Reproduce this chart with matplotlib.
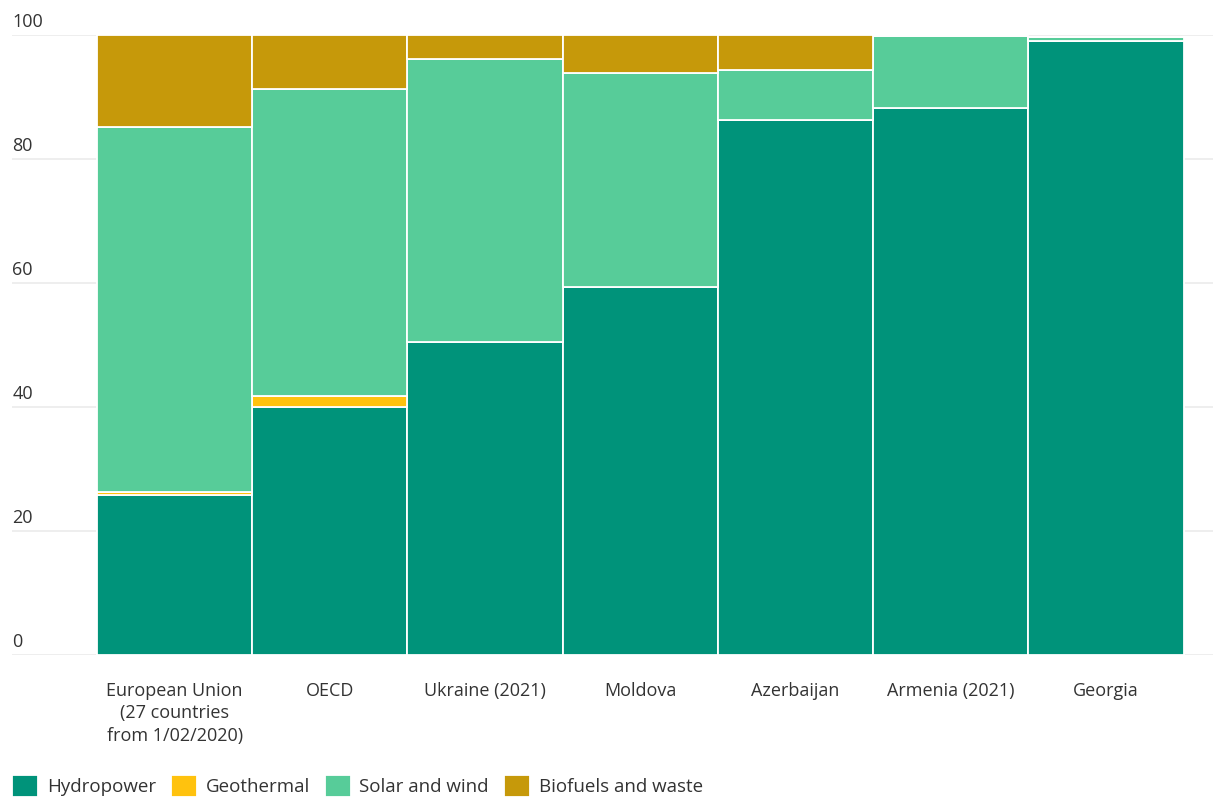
import numpy as np
import matplotlib.pyplot as plt

plt.rcParams['font.family'] = ['Open Sans', 'DejaVu Sans']

countries = ['European Union\n(27 countries\nfrom 1/02/2020)', 'OECD', 'Ukraine (2021)',
             'Moldova', 'Azerbaijan', 'Armenia (2021)', 'Georgia']
hydropower = [25.8, 40.0, 50.5, 59.4, 86.3, 88.2, 99.0]
geothermal = [0.5, 1.8, 0.0, 0.0, 0.0, 0.0, 0.0]
solar_wind = [58.9, 49.5, 45.6, 34.5, 8.1, 11.6, 0.7]
biofuels = [14.8, 8.7, 3.9, 6.1, 5.6, 0.0, 0.0]

series = [('Hydropower', hydropower, '#00937a'),
          ('Geothermal', geothermal, '#ffc20e'),
          ('Solar and wind', solar_wind, '#57cc99'),
          ('Biofuels and waste', biofuels, '#c6990a')]

fig = plt.figure(figsize=(12.13, 7.99), dpi=100)
ax = fig.add_axes([0.01, 0.18, 0.99, 0.776])

x = np.arange(len(countries))
bottom = np.zeros(len(countries))
for name, vals, col in series:
    vals = np.array(vals)
    ax.bar(x, vals, width=1.0, bottom=bottom, color=col, edgecolor='white',
           linewidth=1.3, label=name, zorder=3)
    bottom += vals

ax.set_ylim(0, 100)
ax.set_xlim(-1.047, 6.69)
ax.set_yticks(range(0, 101, 20))
ax.yaxis.grid(True, color='#ebebeb', linewidth=1.2, zorder=0)
ax.tick_params(axis='y', length=0, labelleft=False)
for v in range(0, 101, 20):
    ax.text(0.0, v + 0.6, str(v), transform=ax.get_yaxis_transform(),
            ha='left', va='bottom', fontsize=13, color='#333333')

ax.set_xticks(x)
ax.set_xticklabels(countries, fontsize=13, color='#333333', linespacing=1.35)
ax.tick_params(axis='x', length=0, pad=19)
for s in ax.spines.values():
    s.set_visible(False)

fig.legend(loc='lower left', bbox_to_anchor=(-0.004, -0.018), ncol=4, frameon=False,
           fontsize=13.5, handlelength=1.4, handleheight=1.4, handletextpad=0.45,
           columnspacing=0.8, labelcolor='#333333')

fig.savefig('out.png', dpi=100)
